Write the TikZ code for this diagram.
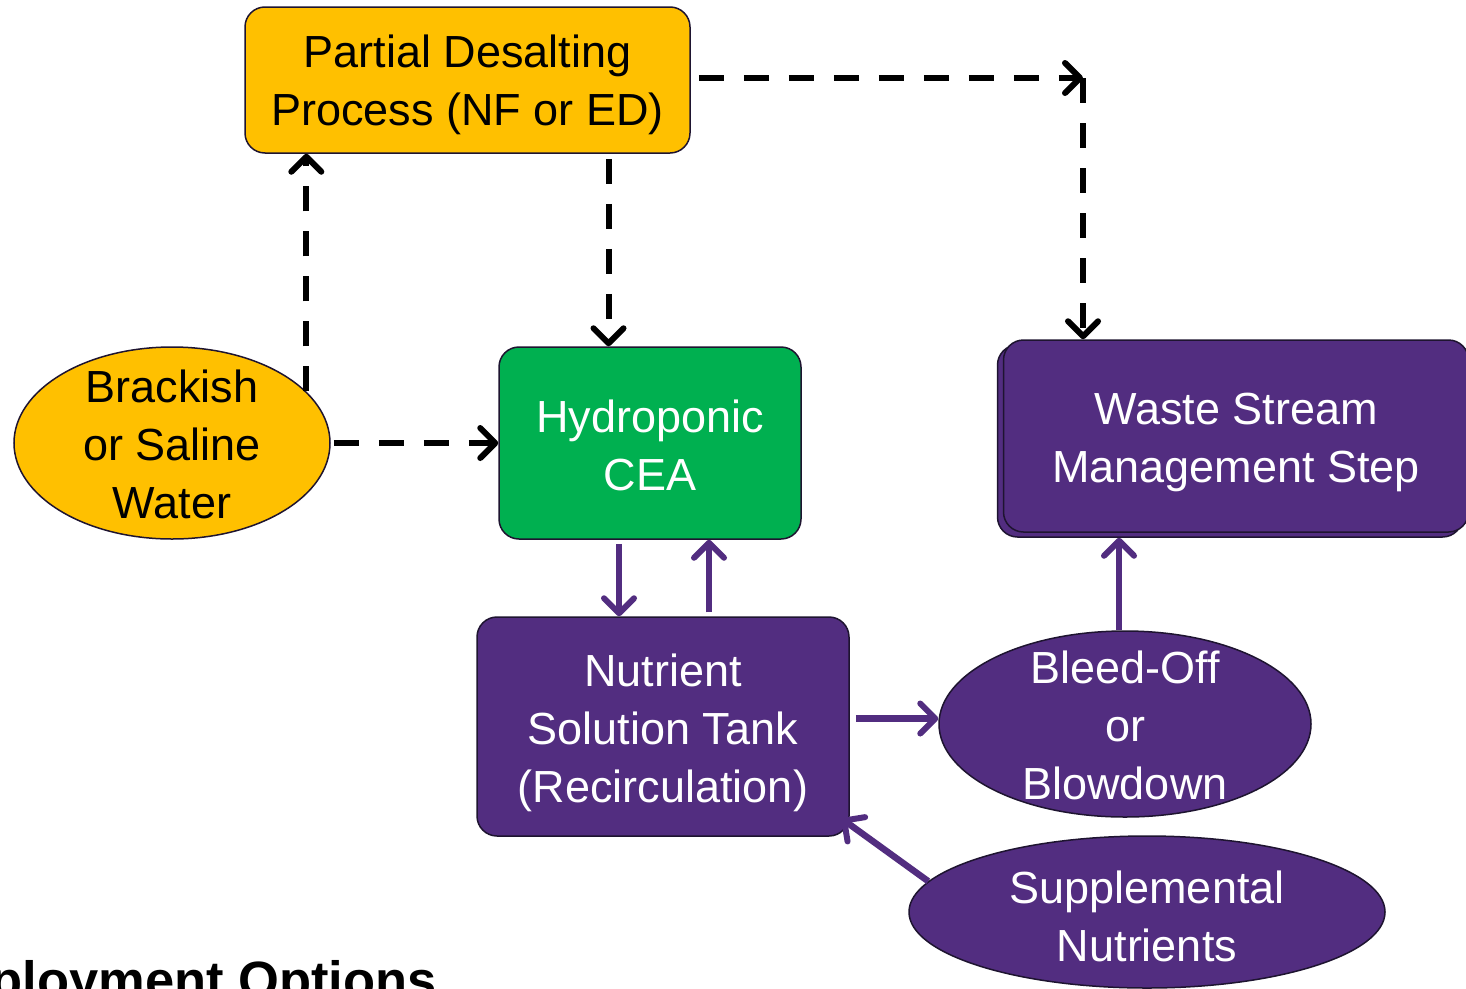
\documentclass[tikz,border=0pt]{standalone}
\usepackage{fontspec}
\setmainfont{Liberation Sans}
\usetikzlibrary{shapes.geometric,arrows.meta}
\definecolor{orng}{HTML}{FFC000}
\definecolor{grn}{HTML}{00B050}
\definecolor{purp}{HTML}{522D80}
\definecolor{edgec}{HTML}{1E1430}
\begin{document}
\begin{tikzpicture}[x=1pt,y=-1pt,
 box/.style={draw=edgec,line width=1.5pt,rounded corners=20pt,inner sep=0pt},
 oval/.style={draw=edgec,line width=1.5pt,ellipse,inner sep=0pt},
 txt/.style={align=center,font=\fontsize{45}{58}\selectfont},
 tip/.style={-{Straight Barb[length=15pt,width=30pt,line width=6pt,round]}},
 dasharrow/.style={tip,line width=6pt,dash pattern=on 25pt off 20pt},
 purarrow/.style={tip,draw=purp,line width=6.5pt}]
\useasboundingbox (0,0) rectangle (1466,988);
\fill[white] (0,0) rectangle (1466,988);
\clip (0,0) rectangle (1466,988);

\node[box,fill=orng,minimum width=445pt,minimum height=146pt,label={[txt,yshift=-5pt]center:Partial Desalting\\Process (NF or ED)}] (partial) at (467.5,80) {};
\node[oval,fill=orng,minimum width=316pt,minimum height=192pt,label={[txt,yshift=-1pt]center:Brackish\\or Saline\\Water}] (brackish) at (172,443) {};
\node[box,fill=grn,minimum width=302pt,minimum height=192pt,label={[txt,text=white,yshift=-2pt]center:Hydroponic\\CEA}] (hydro) at (650,443) {};
\node[box,fill=purp,minimum width=465pt,minimum height=192pt] (wasteback) at (1230,441) {};
\node[box,fill=purp,minimum width=465pt,minimum height=192pt,label={[txt,text=white,yshift=-6pt]center:Waste Stream\\Management Step}] (waste) at (1236,436) {};
\node[box,fill=purp,minimum width=372pt,minimum height=219pt,label={[txt,text=white,yshift=-6pt]center:Nutrient\\Solution Tank\\(Recirculation)}] (tank) at (663,726.5) {};
\node[oval,fill=purp,minimum width=372pt,minimum height=186pt,label={[txt,text=white,yshift=-1pt]center:Bleed-Off\\or\\Blowdown}] (bleed) at (1125,724) {};
\node[oval,fill=purp,minimum width=476pt,minimum height=152pt,label={[txt,text=white,yshift=-4pt]center:Supplemental\\Nutrients}] (supp) at (1147,912) {};
\node[anchor=base east,font=\fontsize{52.5}{62}\selectfont\bfseries,inner sep=0pt] (deploy) at (437,998) {Deployment Options};

\draw[dasharrow,shorten <=3pt] (brackish.east) -- (hydro.west);
\draw[dasharrow] (brackish.21) -- (brackish.21 |- partial.south);
\coordinate (p1) at ([xshift=141pt]partial.south);
\draw[dasharrow,shorten <=5pt] (p1) -- (p1 |- hydro.north);
\coordinate (bend) at (1083,78);
\draw[dasharrow,shorten <=8pt] (partial.east |- bend) -- (bend);
\draw[dasharrow] (bend) -- (bend |- waste.north);

\coordinate (h1) at ([xshift=-31pt]hydro.south);
\coordinate (h2) at ([xshift=59pt]hydro.south);
\draw[purarrow,shorten <=4pt] (h1) -- (h1 |- tank.north);
\draw[purarrow,shorten <=4pt] (h2 |- tank.north) -- (h2);
\coordinate (t1) at ([yshift=8pt]tank.east);
\draw[purarrow,shorten <=6pt] (t1) -- (t1 -| bleed.west);
\coordinate (b1) at ([xshift=-6pt]bleed.north);
\draw[purarrow] (b1) -- (b1 |- wasteback.south);
\draw[purarrow] (supp.172) -- ([xshift=-8pt,yshift=18pt]tank.south east);
\end{tikzpicture}
\end{document}
